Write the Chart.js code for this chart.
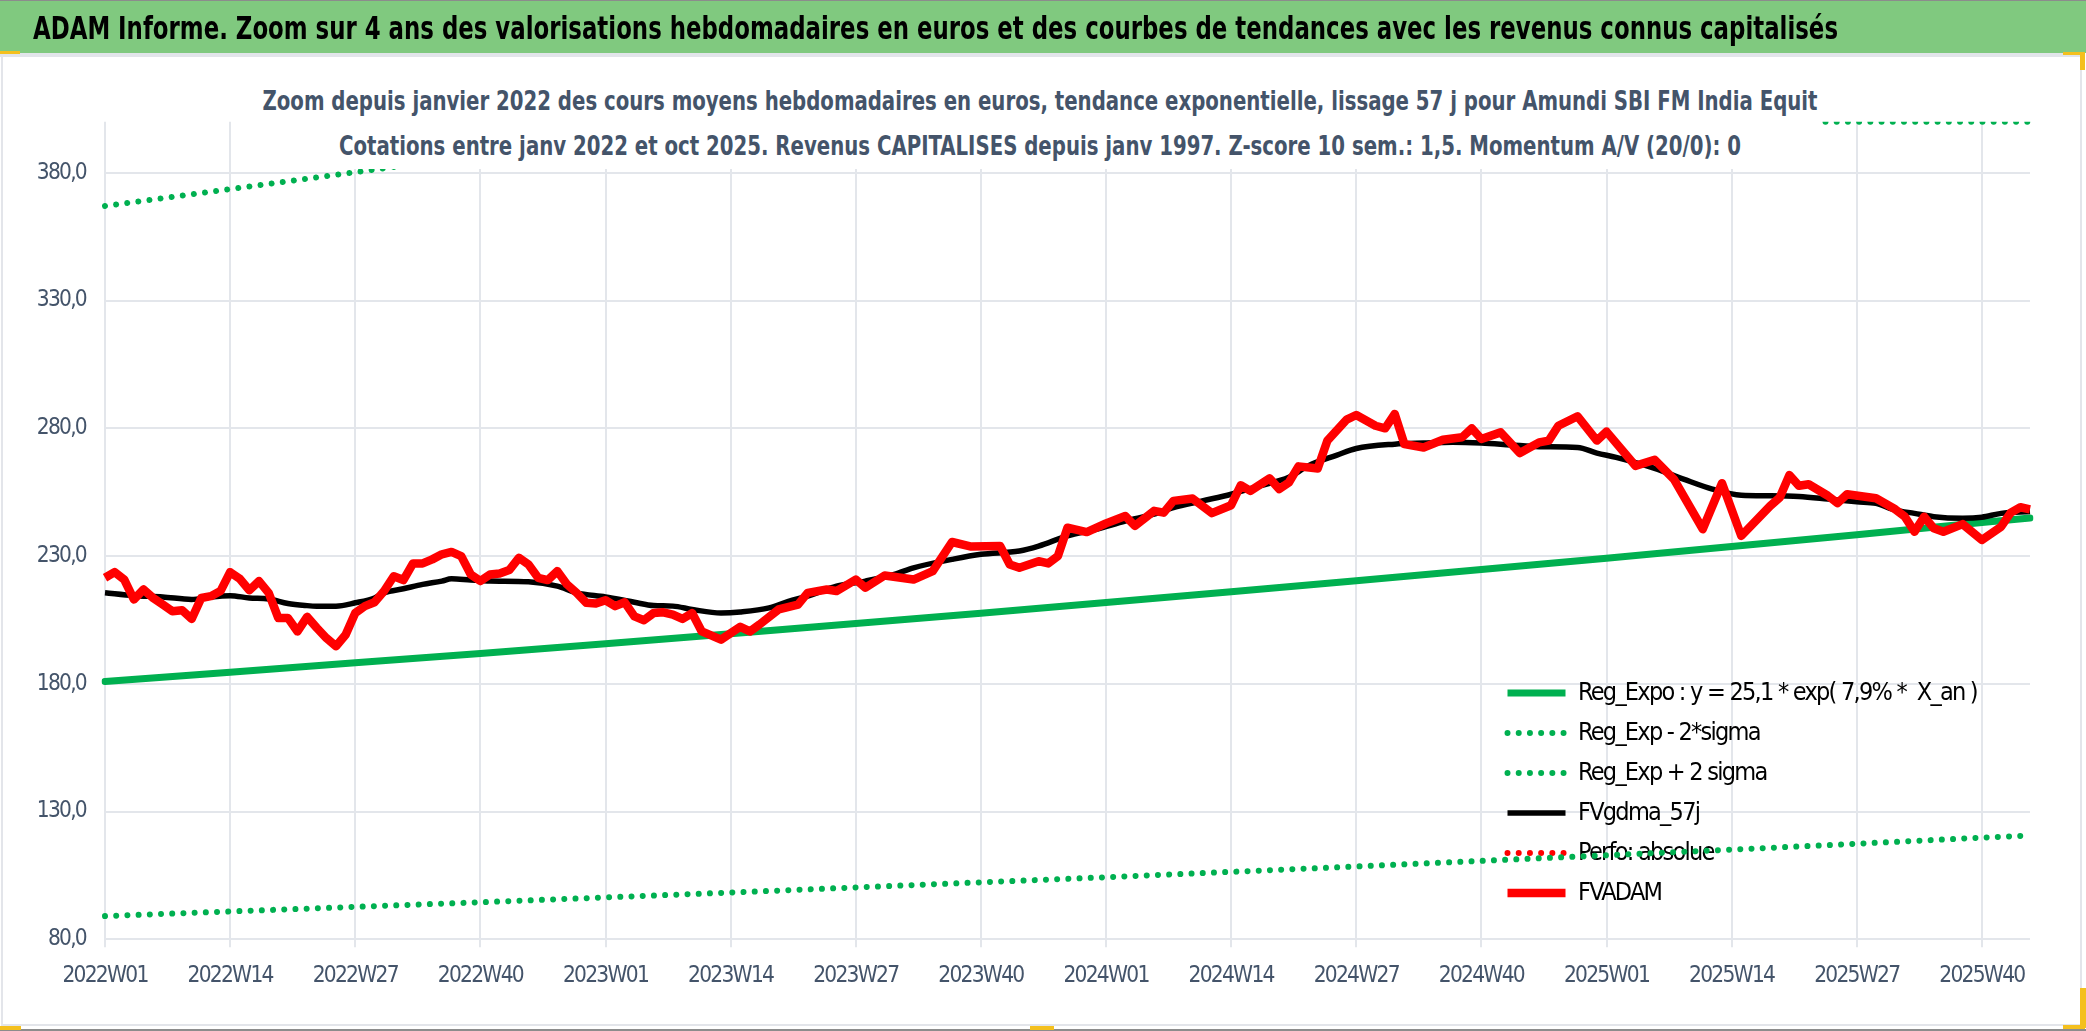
<!DOCTYPE html>
<html lang="fr">
<head>
<meta charset="utf-8">
<title>ADAM Informe - Amundi SBI FM India Equit</title>
<script src="https://cdn.jsdelivr.net/npm/chart.js@4.4.1/dist/chart.umd.min.js"></script>
<style>
  html, body { margin: 0; padding: 0; background: #fff; overflow: hidden; }
  #page {
    position: relative; width: 2086px; height: 1031px;
    font-family: "DejaVu Sans Condensed", "Liberation Sans", sans-serif;
  }
  #chart { position: absolute; left: 0; top: 0; }
  .abs { position: absolute; }
  #frame { left: 1px; top: 55px; width: 2077px; height: 967px; border: 2px solid #e3e5ea; }
  #titleBar { left: 0; top: 0; width: 2086px; height: 52px; background: #80c97f; border-top: 1px solid #8c8c8c; }
  #titleRule { left: 0; top: 53px; width: 2081px; height: 4px; background: #e2e5ea; }
  #mainTitle {
    left: 33px; top: 12px; font-size: 32px; line-height: 32px; font-weight: bold; color: #000;
    white-space: nowrap; transform-origin: left center;
  }
  #subtitle { left: 258px; top: 76px; width: 1564px; height: 93px; background: #fff; }
  .subLine { position: absolute; left: 0; width: 100%; height: 30px; }
  .subLine span {
    position: absolute; left: 50%; top: 0;
    font-size: 27px; line-height: 27px; font-weight: bold; color: #44546a;
    white-space: nowrap; transform-origin: center center;
  }
  .handle { background: #f4c01e; }
  #bottomEdge { left: 0; top: 1029px; width: 2086px; height: 2px; background: #8c8c8c; }
</style>
</head>
<body>
<div id="page">
  <canvas id="chart" width="2086" height="1031"></canvas>
  <div id="frame" class="abs"></div>
  <div id="subtitle" class="abs">
    <div class="subLine" style="top: 11px;"><span id="sub1">Zoom depuis janvier 2022 des cours moyens hebdomadaires en euros, tendance exponentielle, lissage 57 j pour Amundi SBI FM India Equit</span></div>
    <div class="subLine" style="top: 56px;"><span id="sub2">Cotations entre janv 2022 et oct 2025. Revenus CAPITALISES depuis janv 1997. Z-score 10 sem.: 1,5. Momentum A/V (20/0): 0</span></div>
  </div>
  <div id="titleBar" class="abs"></div>
  <div id="titleRule" class="abs"></div>
  <span id="mainTitle" class="abs">ADAM Informe. Zoom sur 4 ans des valorisations hebdomadaires en euros et des courbes de tendances avec les revenus connus capitalisés</span>
  <div id="bottomEdge" class="abs"></div>
  <div class="abs handle" style="left:0; top:51px; width:20px; height:3px;"></div>
  <div class="abs handle" style="left:2063px; top:52px; width:22px; height:3px;"></div>
  <div class="abs handle" style="left:2080px; top:53px; width:5px; height:17px;"></div>
  <div class="abs handle" style="left:2080px; top:988px; width:6px; height:40px;"></div>
  <div class="abs handle" style="left:2063px; top:1025px; width:22px; height:4px;"></div>
  <div class="abs handle" style="left:0; top:1026px; width:21px; height:4px;"></div>
  <div class="abs handle" style="left:1030px; top:1026px; width:24px; height:4px;"></div>
</div>

<script>
// Weekly categories 2022W01 .. 2025W45
const years = [2022, 2023, 2024, 2025];
const weeksInYear = [52, 52, 52, 45];
const labelStep = 13;

const weekLabels = [];
years.forEach((y, k) => {
  for (let w = 1; w <= weeksInYear[k]; w++) {
    weekLabels.push(y + "W" + String(w).padStart(2, "0"));
  }
});

// Y axis ticks (euros)
const yTickValues = [80, 130, 180, 230, 280, 330, 380];

// FVADAM : weekly average price (week index, value)
const fvadamWeeks = [
  0, 1, 2, 3, 4, 5, 6, 7, 8, 9, 10, 11, 12, 13, 14, 15, 16, 17, 18, 19,
  20, 21, 22, 23, 24, 25, 26, 27, 28, 29, 30, 31, 32, 33, 34, 35, 36, 37, 38, 39,
  40, 41, 42, 43, 44, 45, 46, 47, 48, 49, 50, 51, 52, 53, 54, 55, 56, 57, 58, 59,
  60, 61, 62, 64, 66, 67, 68, 70, 72, 73, 75, 76, 78, 79, 81, 84, 86, 88, 90, 93,
  94, 95, 97, 98, 99, 100, 102, 104, 106, 107, 109, 110, 111, 113, 115, 117, 118, 119, 121, 122,
  123, 124, 126, 127, 129, 130, 132, 133, 134, 135, 137, 139, 141, 142, 143, 145, 147, 149, 150, 151,
  153, 155, 156, 159, 161, 163, 166, 168, 170, 173, 174, 175, 176, 177, 179, 180, 181, 184, 186, 187,
  188, 189, 190, 191, 193, 195, 197, 198, 199, 200
];
const fvadamValues = [
  221.5, 223.7, 220.8, 213.0, 216.9, 213.6, 211.0, 208.4, 208.8, 205.4, 213.6, 214.3, 216.3, 223.7, 221.1, 216.6, 220.2, 215.6, 205.8, 205.8,
  200.5, 206.2, 201.9, 197.9, 194.7, 199.2, 207.7, 210.4, 211.9, 216.3, 222.1, 220.6, 227.1, 227.1, 228.7, 230.7, 231.6, 230.0, 222.8, 220.2,
  222.8, 223.2, 224.5, 229.3, 226.7, 221.5, 220.6, 224.1, 218.9, 215.6, 211.7, 211.4, 212.7, 210.4, 211.9, 206.4, 204.9, 207.7, 208.0, 207.1,
  205.4, 207.7, 200.5, 197.3, 202.3, 200.5, 203.2, 209.1, 211.0, 215.6, 216.9, 216.3, 220.8, 217.6, 222.4, 220.8, 224.1, 235.5, 233.7, 233.9,
  226.7, 225.4, 228.0, 227.1, 230.0, 241.1, 239.4, 242.8, 245.7, 241.8, 247.7, 247.0, 251.6, 252.5, 246.8, 249.9, 257.7, 255.5, 260.4, 256.2,
  258.8, 265.1, 264.3, 275.2, 283.4, 285.2, 281.0, 280.0, 285.6, 273.8, 272.5, 275.5, 276.5, 280.0, 275.8, 278.4, 270.3, 274.5, 275.2, 281.0,
  284.7, 275.2, 278.7, 265.3, 267.7, 260.1, 240.5, 258.5, 237.9, 249.6, 252.9, 261.7, 257.5, 258.1, 253.6, 250.7, 254.2, 252.6, 248.3, 245.4,
  239.5, 245.4, 240.9, 239.5, 242.5, 236.3, 241.5, 247.0, 249.1, 248.3
];

// FVgdma_57j : smoothed curve
const gdmaWeeks = [
  0, 3, 6, 9, 11, 13, 15, 17, 19, 21, 22, 24, 26, 28, 29, 31, 33, 35, 36, 38,
  40, 44, 47, 49, 52, 55, 57, 59, 61, 64, 66, 69, 71, 73, 76, 79, 82, 84, 88, 91,
  95, 97, 100, 103, 106, 109, 111, 114, 117, 120, 123, 125, 128, 130, 134, 137, 140, 143, 146, 149,
  153, 155, 157, 161, 164, 167, 170, 173, 176, 179, 182, 184, 186, 188, 190, 193, 195, 197, 200
];
const gdmaValues = [
  215.6, 214.5, 214.0, 213.0, 214.0, 214.5, 213.6, 213.2, 211.4, 210.6, 210.4, 210.4, 211.7, 213.6, 215.6, 217.2, 218.9, 220.2, 221.1, 220.6,
  220.2, 219.9, 218.2, 215.6, 214.0, 211.9, 210.6, 210.4, 209.1, 207.7, 208.1, 209.7, 212.3, 214.3, 218.2, 220.2, 222.8, 225.4, 228.7, 230.7,
  232.0, 233.9, 237.9, 240.5, 243.7, 246.4, 249.0, 251.6, 254.2, 257.5, 260.8, 265.3, 269.5, 272.1, 273.8, 274.2, 274.5, 274.2, 273.5, 272.8,
  272.5, 270.3, 268.6, 264.3, 260.1, 256.2, 253.8, 253.6, 253.3, 252.3, 251.2, 250.6, 248.0, 246.7, 245.4, 244.8, 245.2, 246.7, 247.4
];

// Reg_Expo and its +/- 2 sigma bands
const regWeeks = [0, 13, 26, 39, 52, 65, 78, 91, 104, 117, 130, 143, 156, 169, 182, 195, 200];
const regValues = [180.9, 184.5, 188.2, 191.9, 195.7, 199.6, 203.6, 207.6, 211.8, 216.0, 220.3, 224.7, 229.1, 233.7, 238.3, 243.1, 244.9];
const lowerValues = [89.1, 90.9, 92.7, 94.5, 96.4, 98.3, 100.3, 102.3, 104.3, 106.4, 108.5, 110.7, 112.9, 115.1, 117.4, 119.8, 120.6];
const upperWeeks = [0, 13, 26, 39, 52, 63, 78, 91, 104, 117, 130, 143, 156, 169, 182, 195, 200];
const upperValues = [367.0, 373.6, 380.2, 387.0, 393.9, 400, 400, 400, 400, 400, 400, 400, 400, 400, 400, 400, 400];

const axisFont = '"DejaVu Sans Condensed", "Liberation Sans", sans-serif';
const textColor = "#44546a";
const gridColor = "#e3e6eb";
const letterSpacing = "-1.75px";

// Legend placement inside the plot (left edge and top of the first row)
const legendLeft = 1492.5;
const legendTop = 665.5;
const legendOrder = [2, 3, 4, 1, 5, 0];

function points(weeks, values) {
  return weeks.map((w, k) => ({ x: weekLabels[w], y: values[k] }));
}

const dotted = [0.01, 11.2];

// Move the legend box to the lower right of the plot
const legendPlacer = {
  id: "legendPlacer",
  afterLayout(chart) {
    const lg = chart.legend;
    if (!lg) return;
    lg.left = legendLeft;
    lg.right = legendLeft + Math.max(lg.width, 540);
    lg.top = legendTop;
    lg.bottom = chart.chartArea.bottom;
  }
};

// Tighter letter spacing, closer to the narrow font of the original
const textTightener = {
  id: "textTightener",
  beforeLayout(chart) { chart.ctx.letterSpacing = letterSpacing; },
  beforeDraw(chart) { chart.ctx.letterSpacing = letterSpacing; }
};

new Chart(document.getElementById("chart"), {
  type: "line",
  data: {
    labels: weekLabels,
    datasets: [
      {
        label: "FVADAM",
        data: points(fvadamWeeks, fvadamValues),
        borderColor: "#ff0000",
        borderWidth: 8.5,
        borderJoinStyle: "round",
        borderCapStyle: "butt",
        tension: 0
      },
      {
        label: "FVgdma_57j",
        data: points(gdmaWeeks, gdmaValues),
        borderColor: "#000000",
        borderWidth: 5.5,
        borderJoinStyle: "round",
        borderCapStyle: "butt",
        cubicInterpolationMode: "monotone"
      },
      {
        label: "Reg_Expo : y = 25,1 * exp( 7,9% *  X_an )",
        data: points(regWeeks, regValues),
        borderColor: "#00b050",
        borderWidth: 7,
        borderJoinStyle: "round",
        borderCapStyle: "round"
      },
      {
        label: "Reg_Exp - 2*sigma",
        data: points(regWeeks, lowerValues),
        borderColor: "#00b050",
        borderWidth: 6,
        borderDash: dotted,
        borderCapStyle: "round"
      },
      {
        label: "Reg_Exp + 2 sigma",
        data: points(upperWeeks, upperValues),
        borderColor: "#00b050",
        borderWidth: 6,
        borderDash: dotted,
        borderCapStyle: "round"
      },
      {
        label: "Perfo: absolue",
        data: [],
        borderColor: "#ff0000",
        borderWidth: 6,
        borderDash: dotted,
        borderCapStyle: "round"
      }
    ]
  },
  options: {
    responsive: false,
    animation: false,
    events: [],
    elements: { point: { radius: 0, hoverRadius: 0 } },
    layout: { padding: { left: 0, top: 121.7, right: 56, bottom: 31.7 } },
    scales: {
      x: {
        type: "category",
        offset: false,
        grid: { color: gridColor, lineWidth: 2, tickLength: 8, drawTicks: true },
        border: { display: false },
        ticks: {
          autoSkip: false, maxRotation: 0, minRotation: 0, padding: 15,
          color: textColor, font: { family: axisFont, size: 22.5 }
        },
        afterBuildTicks: (scale) => {
          scale.ticks = scale.ticks.filter((t) => t.value % labelStep === 0);
        },
        afterFit: (scale) => { scale.height = 60; }
      },
      y: {
        type: "linear",
        min: 80,
        max: 400,
        grid: { color: gridColor, lineWidth: 2, drawTicks: false },
        border: { display: false },
        ticks: {
          padding: 19, color: textColor, font: { family: axisFont, size: 22.5 },
          callback: (v) => v.toFixed(1).replace(".", ",")
        },
        afterBuildTicks: (scale) => {
          scale.ticks = yTickValues.map((v) => ({ value: v }));
        },
        afterFit: (scale) => { scale.width = 105; }
      }
    },
    plugins: {
      title: { display: false },
      tooltip: { enabled: false },
      legend: {
        position: "chartArea",
        align: "start",
        labels: {
          usePointStyle: true,
          pointStyleWidth: 58,
          padding: 15,
          color: textColor,
          font: { family: axisFont, size: 25 },
          generateLabels: (chart) => legendOrder.map((i) => {
            const ds = chart.data.datasets[i];
            return {
              text: ds.label,
              fillStyle: ds.borderColor,
              strokeStyle: ds.borderColor,
              lineWidth: ds.borderWidth,
              lineDash: ds.borderDash || [],
              lineCap: ds.borderDash ? "round" : "butt",
              lineJoin: "round",
              pointStyle: "line",
              hidden: false,
              datasetIndex: i
            };
          })
        }
      }
    }
  },
  plugins: [textTightener, legendPlacer]
});

// Stretch the HTML titles to the widths measured on the reference
function fitWidth(id, target, centred) {
  const el = document.getElementById(id);
  const w = el.getBoundingClientRect().width;
  if (w <= 0) return;
  const k = target / w;
  el.style.transform = (centred ? "translateX(-50%) " : "") + "scaleX(" + k + ")";
}
fitWidth("mainTitle", 1805, false);
fitWidth("sub1", 1555, true);
fitWidth("sub2", 1402, true);
</script>
</body>
</html>
